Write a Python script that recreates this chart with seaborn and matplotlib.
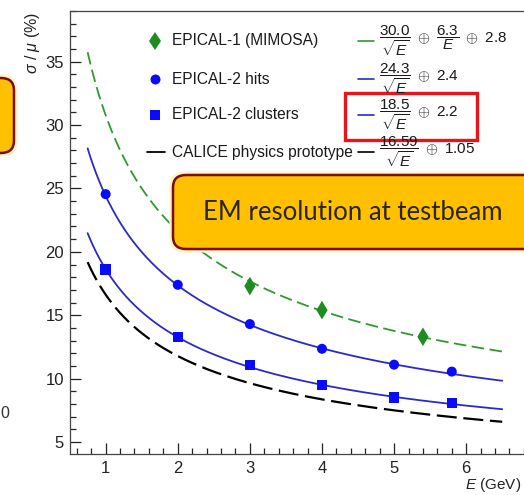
import numpy as np
import matplotlib
matplotlib.use("Agg")
import matplotlib.pyplot as plt
import seaborn as sns
from matplotlib.patches import FancyBboxPatch, Rectangle
from matplotlib.lines import Line2D
from matplotlib.ticker import MultipleLocator

energy_epical1 = [3.0, 4.0, 5.4]
res_epical1 = [17.3, 15.4, 13.3]
energy_epical2 = [1.0, 2.0, 3.0, 4.0, 5.0, 5.8]
res_hits = [24.55, 17.4, 14.3, 12.35, 11.1, 10.55]
res_clusters = [18.6, 13.3, 11.05, 9.5, 8.5, 8.05]

# fit parameters as printed in the legend: a/sqrt(E) (+) b/E (+) c
series_labels = ["EPICAL-1 (MIMOSA)", "EPICAL-2 hits", "EPICAL-2 clusters", "CALICE physics prototype"]
fit_stochastic = [30.0, 24.3, 18.5, 16.59]
fit_noise = [6.3, 0.0, 0.0, 0.0]
fit_constant = [2.8, 2.4, 2.2, 1.05]
fit_labels = [
    r"$\dfrac{30.0}{\sqrt{E}}\ \oplus\ \dfrac{6.3}{E}\ \oplus\ 2.8$",
    r"$\dfrac{24.3}{\sqrt{E}}\ \oplus\ 2.4$",
    r"$\dfrac{18.5}{\sqrt{E}}\ \oplus\ 2.2$",
    r"$\dfrac{16.59}{\sqrt{E}}\ \oplus\ 1.05$",
]

W, H = 524, 495
GREEN = "#2f9a2f"
LINE_BLUE = "#2a2ac8"
BLUE = "#0a0aff"

sns.set_style("ticks")
plt.rcParams["font.family"] = ["Liberation Sans", "DejaVu Sans"]
plt.rcParams["mathtext.fontset"] = "custom"
plt.rcParams["mathtext.rm"] = "Liberation Sans"
plt.rcParams["mathtext.it"] = "Liberation Sans:italic"
plt.rcParams["mathtext.bf"] = "Liberation Sans:bold"

fig = plt.figure(figsize=(W / 100, H / 100), dpi=100)
fig.patch.set_facecolor("white")


def fx(px):
    return px / W


def fy(py):
    return 1 - py / H


ax = fig.add_axes([fx(69.6), fy(454), (538.3 - 69.6) / W, (454 - 11) / H])
ax.set_facecolor("white")

e_grid = np.linspace(0.75, 6.5, 300)
styles = [
    dict(color=GREEN, linewidth=1.3, linestyle=(0, (7, 3))),
    dict(color=LINE_BLUE, linewidth=1.3, linestyle="-"),
    dict(color=LINE_BLUE, linewidth=1.3, linestyle="-"),
    dict(color="black", linewidth=1.6, linestyle=(0, (9, 3))),
]
for a, b, c, st in zip(fit_stochastic, fit_noise, fit_constant, styles):
    res = np.sqrt((a / np.sqrt(e_grid)) ** 2 + (b / e_grid) ** 2 + c ** 2)
    sns.lineplot(x=e_grid, y=res, ax=ax, sort=False, **st)

sns.scatterplot(x=energy_epical1, y=res_epical1, ax=ax, marker="d", s=90,
                color="#1e8c1e", edgecolor="none", zorder=4)
sns.scatterplot(x=energy_epical2, y=res_hits, ax=ax, marker="o", s=52,
                color=BLUE, edgecolor="none", zorder=4)
sns.scatterplot(x=energy_epical2, y=res_clusters, ax=ax, marker="s", s=56,
                color=BLUE, edgecolor="none", zorder=4)

ax.set_xlim(0.5, 7.0)
ax.set_ylim(4.05, 39.0)
ax.xaxis.set_major_locator(MultipleLocator(1))
ax.xaxis.set_minor_locator(MultipleLocator(0.2))
ax.yaxis.set_major_locator(MultipleLocator(5))
ax.yaxis.set_minor_locator(MultipleLocator(1))
ax.set_xticks([1, 2, 3, 4, 5, 6])
ax.set_yticks([5, 10, 15, 20, 25, 30, 35])
ax.tick_params(which="major", direction="in", length=8, width=0.9, labelsize=12, colors="#222222")
ax.tick_params(which="minor", direction="in", length=4, width=0.9)
ax.tick_params(axis="x", pad=5)
ax.tick_params(axis="y", pad=4)
for sp in ax.spines.values():
    sp.set_linewidth(0.9)
    sp.set_color("#444444")
ax.set_xlabel("")
ax.set_ylabel("")

fig.text(fx(33), fy(12), r"$\sigma$ / $\mu$ (%)", rotation=90, ha="center", va="top",
         fontsize=11.5, color="#222222")
fig.text(fx(521), fy(494), r"$E$ (GeV)", ha="right", va="bottom", fontsize=11, color="#222222")

# legend
row_y = [41, 79, 115, 152]
markers = [("d", "#1e8c1e", 9.5), ("o", BLUE, 7.2), ("s", BLUE, 7.4)]
for i, (m, col, ms) in enumerate(markers):
    fig.add_artist(Line2D([fx(155)], [fy(row_y[i])], marker=m, color=col, markersize=ms,
                          markeredgewidth=0, linestyle="none"))
fig.add_artist(Line2D([fx(147), fx(165)], [fy(row_y[3]), fy(row_y[3])], color="black", linewidth=1.3))
seg_colors = [GREEN, LINE_BLUE, LINE_BLUE, "black"]
for i, lab in enumerate(series_labels):
    fig.text(fx(172), fy(row_y[i]), lab, ha="left", va="center", fontsize=11.2, color="#1a1a1a")
    fig.add_artist(Line2D([fx(358), fx(374)], [fy(row_y[i]), fy(row_y[i])], color=seg_colors[i],
                          linewidth=1.2))
    fig.text(fx(379), fy(row_y[i]), fit_labels[i], ha="left", va="center", fontsize=11,
             color="#1a1a1a")

# red highlight box
fig.add_artist(Rectangle((fx(345), fy(140)), (477 - 345) / W, (140 - 93) / H,
                         fill=False, edgecolor="#e8141c", linewidth=2.4, transform=fig.transFigure))


# slide overlays
def slide_box(x0, y0, x1, y1):
    glow = FancyBboxPatch((fx(x0 - 1.5), fy(y1 + 1.5)), (x1 - x0 + 3) / W, (y1 - y0 + 3) / H,
                          boxstyle="round,pad=0,rounding_size=0.027", transform=fig.transFigure,
                          facecolor="none", edgecolor="#fff1c8", linewidth=3, zorder=9)
    box = FancyBboxPatch((fx(x0), fy(y1)), (x1 - x0) / W, (y1 - y0) / H,
                         boxstyle="round,pad=0,rounding_size=0.025", transform=fig.transFigure,
                         facecolor="#ffc000", edgecolor="#7a0c14", linewidth=1.8, zorder=10)
    fig.add_artist(glow)
    fig.add_artist(box)


slide_box(-30, 78, 14, 153)
slide_box(173, 175, 560, 249)
fig.text(fx(353), fy(212), "EM resolution at testbeam", ha="center", va="center",
         fontsize=18.5, family=["Lato", "DejaVu Sans"], fontweight="normal", color="#2b2410", zorder=11)
fig.text(fx(0), fy(414), "0", ha="left", va="center", fontsize=11.5, color="#333333")

fig.savefig("out.png", dpi=100, facecolor="white")
